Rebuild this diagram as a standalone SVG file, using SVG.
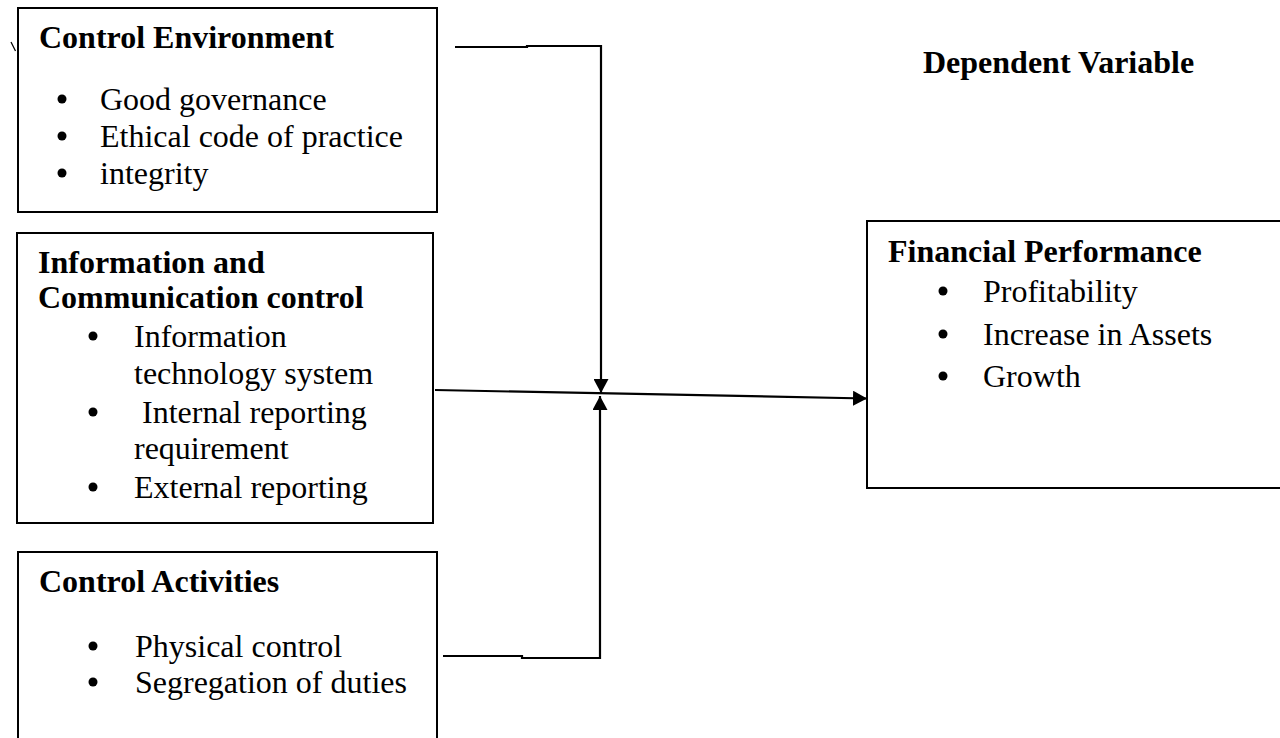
<svg xmlns="http://www.w3.org/2000/svg" width="1280" height="738" viewBox="0 0 1280 738">
<style>
.box{fill:#fff;stroke:#000;stroke-width:2}
.t{font-family:"Liberation Serif","Times New Roman",serif;font-size:32px;fill:#000}
.b{font-weight:bold}
.dot{fill:#000}
.ln{fill:none;stroke:#000;stroke-width:2.2}
</style>
<defs>
<marker id="ah" viewBox="0 0 14 15" refX="14" refY="7.5" markerWidth="14" markerHeight="15" markerUnits="userSpaceOnUse" orient="auto">
<path d="M0,0 L14,7.5 L0,15 Z" fill="#000"/>
</marker>
</defs>
<rect width="1280" height="738" fill="#fff"/>
<g id="stray"><line x1="11" y1="42" x2="15.5" y2="51" stroke="#000" stroke-width="1.3"/></g>
<g id="control-environment">
<rect class="box" x="18" y="8" width="419" height="204"/>
<text class="t b" x="39" y="48">Control Environment</text>
<circle class="dot" cx="62" cy="99" r="4.5"/>
<text class="t" x="100" y="110">Good governance</text>
<circle class="dot" cx="62" cy="136" r="4.5"/>
<text class="t" x="100" y="147">Ethical code of practice</text>
<circle class="dot" cx="62" cy="173" r="4.5"/>
<text class="t" x="100" y="184">integrity</text>
</g>
<g id="information-communication">
<rect class="box" x="17" y="233" width="416" height="290"/>
<text class="t b" x="38" y="273">Information and</text>
<text class="t b" x="38" y="308">Communication control</text>
<circle class="dot" cx="93" cy="336" r="4.5"/>
<text class="t" x="134" y="347">Information</text>
<text class="t" x="134" y="384">technology system</text>
<circle class="dot" cx="93" cy="412" r="4.5"/>
<text class="t" x="142" y="423">Internal reporting</text>
<text class="t" x="134" y="459">requirement</text>
<circle class="dot" cx="93" cy="487" r="4.5"/>
<text class="t" x="134" y="498">External reporting</text>
</g>
<g id="control-activities">
<rect class="box" x="18" y="552" width="419" height="200"/>
<text class="t b" x="39" y="592">Control Activities</text>
<circle class="dot" cx="93" cy="646" r="4.5"/>
<text class="t" x="135" y="657">Physical control</text>
<circle class="dot" cx="93" cy="682" r="4.5"/>
<text class="t" x="135" y="693">Segregation of duties</text>
</g>
<g id="dependent-variable-label">
<text class="t b" x="923" y="73">Dependent Variable</text>
</g>
<g id="financial-performance">
<rect class="box" x="867" y="221" width="430" height="267"/>
<text class="t b" x="888" y="262">Financial Performance</text>
<circle class="dot" cx="943" cy="291" r="4.5"/>
<text class="t" x="983" y="302">Profitability</text>
<circle class="dot" cx="943" cy="334" r="4.5"/>
<text class="t" x="983" y="345">Increase in Assets</text>
<circle class="dot" cx="943" cy="376" r="4.5"/>
<text class="t" x="983" y="387">Growth</text>
</g>
<g id="connectors">
<polyline class="ln" points="455,47 527,47 527,46 601,46 601,393" marker-end="url(#ah)"/>
<polyline class="ln" points="443,656 522,656 522,658 600,658 600,396" marker-end="url(#ah)"/>
<line class="ln" x1="435" y1="390" x2="867" y2="398.5" marker-end="url(#ah)"/>
</g>
</svg>
